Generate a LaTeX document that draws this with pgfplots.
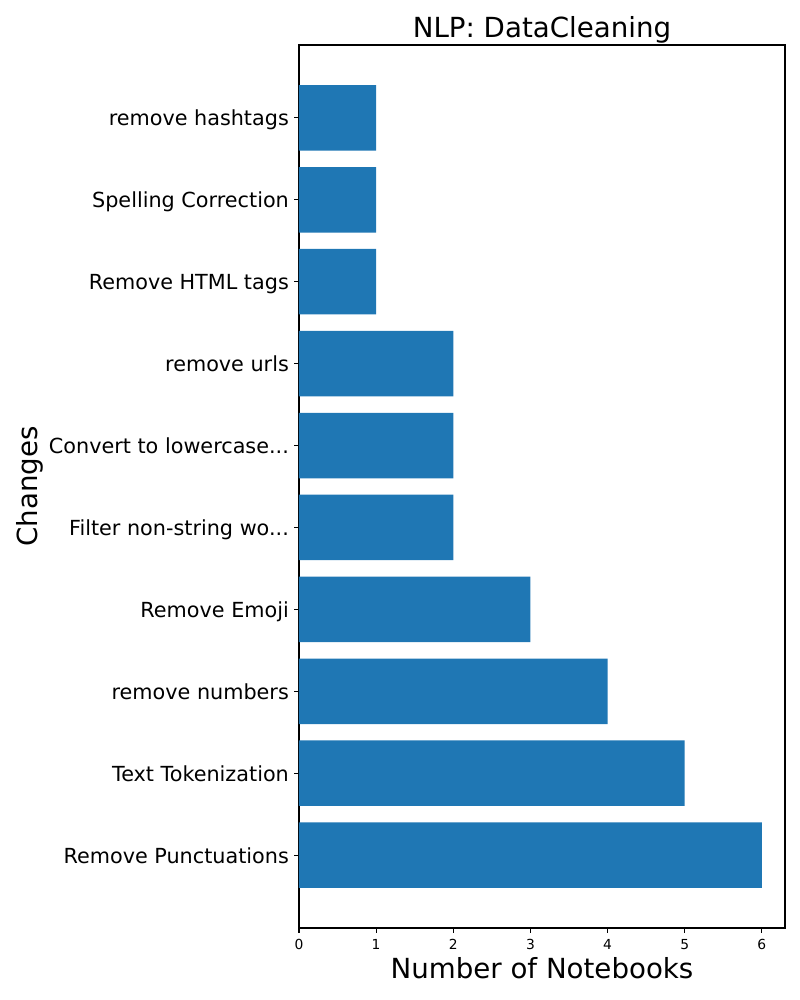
\documentclass[border=0pt]{standalone}
\usepackage{fontspec}
\setmainfont{DejaVu Sans}
\usepackage{pgfplots}
\pgfplotsset{compat=1.18}
\definecolor{mplblue}{HTML}{1F77B4}
\newcommand{\dd}{{.}{.}{.}}
\begin{document}
\begin{tikzpicture}
\path[use as bounding box] (-215.28bp,-51.84bp) rectangle (360.72bp,668.16bp);
\begin{axis}[
  scale only axis,
  width=349.92bp, height=635.76bp,
  xbar, bar width=0.8,
  xmin=0, xmax=6.3, ymin=-0.89, ymax=9.89,
  xtick={0,1,2,3,4,5,6}, ytick={0,1,2,3,4,5,6,7,8,9},
  xticklabels={0,1,2,3,4,5,6},
  yticklabels={Remove Punctuations, Text Tokenization, remove numbers, Remove Emoji,
    Filter non-string wo\dd, Convert to lowercase\dd, remove urls, Remove HTML tags,
    Spelling Correction, remove hashtags},
  tick align=outside, major tick length=3.5bp,
  xtick pos=lower, ytick pos=left,
  axis line style={line width=0.8bp},
  major tick style={black, line width=0.8bp},
  xticklabel style={font=\fontsize{10}{12}\selectfont, inner sep=0pt, anchor=base, yshift=-12.3bp},
  yticklabel style={font=\fontsize{15}{18}\selectfont, inner sep=0pt, anchor=base east,
    xshift=-3.6bp, yshift=-5.8bp},
  title={NLP: DataCleaning},
  title style={font=\fontsize{20}{24}\selectfont, inner sep=0pt, anchor=base,
    at={(axis description cs:0.5,1)}, yshift=-0.7bp},
  xlabel={Number of Notebooks},
  xlabel style={font=\fontsize{20}{24}\selectfont, inner sep=0pt, anchor=base,
    at={(axis description cs:0.5,0)}, yshift=-36bp},
  ylabel={Changes},
  ylabel style={font=\fontsize{20}{24}\selectfont, inner sep=0pt, anchor=center,
    at={(axis description cs:-0.5576,0.5)}, yshift=-1.5bp},
]
\addplot[fill=mplblue, draw=none] coordinates {
  (6,0) (5,1) (4,2) (3,3) (2,4) (2,5) (2,6) (1,7) (1,8) (1,9)
};
\end{axis}
\end{tikzpicture}
\end{document}
